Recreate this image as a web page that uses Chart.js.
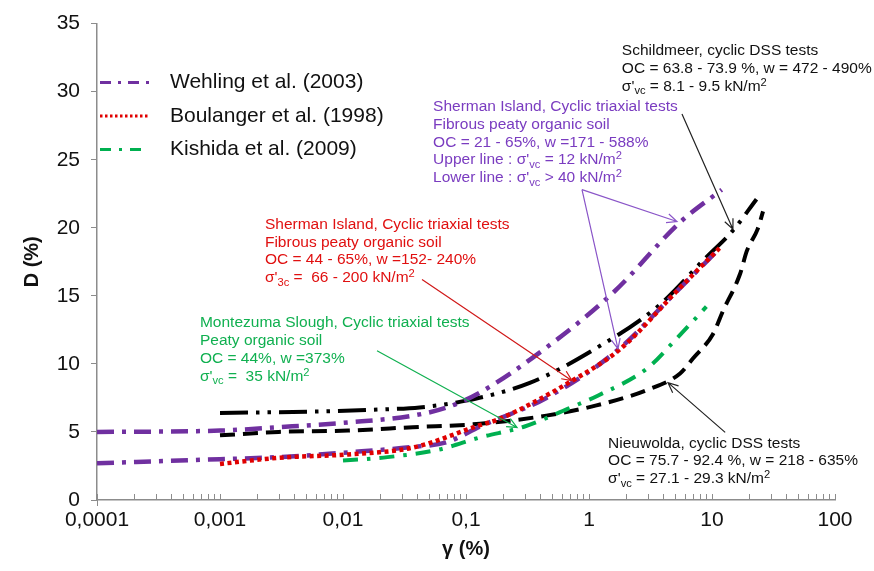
<!DOCTYPE html>
<html>
<head>
<meta charset="utf-8">
<title>D (%) vs γ (%)</title>
<script src="https://cdn.jsdelivr.net/npm/chart.js@4.4.1/dist/chart.umd.min.js"></script>
<style>
  html, body { margin: 0; padding: 0; background: #fff; }
  #wrap { width: 874px; height: 571px; }
</style>
</head>
<body>
<div id="wrap"><canvas id="dampingChart" width="874" height="571"></canvas></div>
<script>
/* ================================================================
   Damping ratio D (%) against shear strain γ (%) – peat soils
   ================================================================ */
(function () {
  'use strict';

  /* ── Axis ticks ──────────────────────────────────────────── */
  var xTickValues = [0.0001, 0.001, 0.01, 0.1, 1, 10, 100];
  var xTickLabels = ['0,0001', '0,001', '0,01', '0,1', '1', '10', '100'];

  /* ── Curves ──────────────────────────────────────────────── */
  // Wehling et al. (2003), Sherman Island – upper line (σ'vc = 12 kN/m²)
  var wehUpperX = [0.0001, 0.001, 0.003, 0.011, 0.037, 0.07, 0.13, 0.45, 1.6, 5.5, 12];
  var wehUpperY = [5.0, 5.1, 5.35, 5.7, 6.2, 6.8, 7.9, 11.2, 15.3, 20.4, 22.8];
  // Wehling et al. (2003), Sherman Island – lower line (σ'vc > 40 kN/m²)
  var wehLowerX = [0.0001, 0.001, 0.003, 0.011, 0.037, 0.07, 0.13, 0.45, 1.7, 5, 11];
  var wehLowerY = [2.7, 3.0, 3.15, 3.5, 3.9, 4.25, 5.4, 7.5, 11.0, 15.2, 18.3];
  // Boulanger et al. (1998)
  var boulX = [0.001, 0.003, 0.011, 0.037, 0.13, 0.18, 0.74, 1.8, 5.5, 11.5];
  var boulY = [2.65, 3.1, 3.35, 3.85, 5.5, 5.9, 8.8, 11.1, 15.6, 18.5];
  // Kishida et al. (2009)
  var kishX = [0.01, 0.023, 0.06, 0.13, 0.3, 0.67, 1.2, 3, 5.2, 9];
  var kishY = [2.9, 3.15, 3.7, 4.6, 5.4, 6.7, 7.7, 9.7, 11.9, 14.2];
  // Schildmeer, cyclic DSS
  var schildX = [0.001, 0.006, 0.02, 0.042, 0.1, 0.33, 1.07, 3.6, 8.9, 14.8, 23];
  var schildY = [6.4, 6.5, 6.65, 6.8, 7.3, 8.6, 11.0, 14.2, 17.8, 19.8, 22.1];
  // Nieuwolda, cyclic DSS
  var nieuwX = [0.001, 0.003, 0.011, 0.037, 0.13, 0.45, 1.15, 3, 5.5, 7, 10.2, 12.3, 16.9, 19.2, 23.5, 26];
  var nieuwY = [4.75, 5.0, 5.1, 5.35, 5.6, 6.2, 6.95, 8.1, 9.3, 10.4, 12.2, 13.9, 16.6, 18.3, 19.9, 21.2];

  /* ── Notes and leader arrows (data coordinates) ──────────── */
  var noteAnchors = [[1.85, 33.0], [0.054, 28.9], [0.00232, 20.24], [0.000687, 13.0], [1.43, 4.16]];
  var noteColors = ['#111111', '#7a3cc0', '#e01010', '#10b050', '#111111'];
  var noteTexts = [
    ['Schildmeer, cyclic DSS tests', 'OC = 63.8 - 73.9 %, w = 472 - 490%', "σ'_{vc} = 8.1 - 9.5 kN/m^{2}"],
    ['Sherman Island, Cyclic triaxial tests', 'Fibrous peaty organic soil', 'OC = 21 - 65%, w =171 - 588%',
      "Upper line : σ'_{vc} = 12 kN/m^{2}", "Lower line : σ'_{vc} > 40 kN/m^{2}"],
    ['Sherman Island, Cyclic triaxial tests', 'Fibrous peaty organic soil', 'OC = 44 - 65%, w =152- 240%',
      "σ'_{3c} =  66 - 200 kN/m^{2}"],
    ['Montezuma Slough, Cyclic triaxial tests', 'Peaty organic soil', 'OC = 44%, w =373%',
      "σ'_{vc} =  35 kN/m^{2}"],
    ['Nieuwolda, cyclic DSS tests', 'OC = 75.7 - 92.4 %, w = 218 - 635%', "σ'_{vc} = 27.1 - 29.3 kN/m^{2}"]
  ];
  var arrowFrom = [[5.7, 28.35], [0.877, 22.8], [0.877, 22.8], [0.0439, 16.2], [0.0189, 10.96], [12.8, 4.97]];
  var arrowTo = [[14.8, 19.9], [5.19, 20.46], [1.72, 11.1], [0.728, 8.77], [0.26, 5.33], [4.39, 8.62]];
  var arrowColors = ['#222222', '#8a55c8', '#8a55c8', '#d01818', '#10b050', '#222222'];

  var FONT = '"Liberation Sans", Arial, sans-serif';
  var PURPLE = '#7030a0', RED = '#e00000', GREEN = '#00b050', BLACK = '#000000';

  function pts(xs, ys) {
    return xs.map(function (x, i) { return { x: x, y: ys[i] }; });
  }

  /* ── Text with sub/superscripts: _{..} and ^{..} ─────────── */
  function drawRich(ctx, text, x, y, size) {
    var parts = text.split(/(_\{[^}]*\}|\^\{[^}]*\})/);
    var cx = x;
    parts.forEach(function (p) {
      if (!p) return;
      var s = size, dy = 0, t = p;
      if (p.indexOf('_{') === 0) { t = p.slice(2, -1); s = size * 0.72; dy = size * 0.3; }
      else if (p.indexOf('^{') === 0) { t = p.slice(2, -1); s = size * 0.72; dy = -size * 0.25; }
      ctx.font = s + 'px ' + FONT;
      ctx.fillText(t, cx, y + dy);
      cx += ctx.measureText(t).width;
    });
  }

  function drawArrow(ctx, x1, y1, x2, y2, color) {
    var a = Math.atan2(y2 - y1, x2 - x1), len = 11, spread = 0.42;
    ctx.strokeStyle = color;
    ctx.lineWidth = 1.2;
    ctx.setLineDash([]);
    ctx.beginPath();
    ctx.moveTo(x1, y1);
    ctx.lineTo(x2, y2);
    ctx.moveTo(x2 - len * Math.cos(a - spread), y2 - len * Math.sin(a - spread));
    ctx.lineTo(x2, y2);
    ctx.lineTo(x2 - len * Math.cos(a + spread), y2 - len * Math.sin(a + spread));
    ctx.stroke();
  }

  /* ── Plugin: minor x ticks, legend, notes, arrows ────────── */
  var decorations = {
    id: 'decorations',
    afterDatasetsDraw: function (chart) {
      var ctx = chart.ctx, xs = chart.scales.x, ys = chart.scales.y, area = chart.chartArea;
      ctx.save();

      // log minor ticks pointing into the plot
      ctx.strokeStyle = '#8c8c8c';
      ctx.lineWidth = 1;
      ctx.beginPath();
      for (var d = 0.0001; d < 100; d *= 10) {
        for (var k = 1; k <= 10; k++) {
          var px = Math.round(xs.getPixelForValue(d * k)) + 0.5;
          ctx.moveTo(px, area.bottom);
          ctx.lineTo(px, area.bottom - 6);
        }
      }
      var ox = Math.round(area.left) + 0.5;
      ctx.moveTo(ox, area.bottom);
      ctx.lineTo(ox, area.bottom + 6);
      ctx.stroke();

      // legend (inside plot, top-left)
      var entries = chart.data.datasets.filter(function (ds) { return ds.legendRank; });
      entries.sort(function (a, b) { return a.legendRank - b.legendRank; });
      entries.forEach(function (ds, row) {
        var ly = area.top + 59 + row * 33.5;
        ctx.strokeStyle = ds.borderColor;
        ctx.lineWidth = 3;
        ctx.setLineDash(ds.legendDash);
        ctx.beginPath();
        ctx.moveTo(area.left + 3, ly);
        ctx.lineTo(area.left + 52, ly);
        ctx.stroke();
        ctx.setLineDash([]);
        ctx.fillStyle = '#111';
        ctx.font = '21px ' + FONT;
        ctx.textBaseline = 'middle';
        ctx.fillText(ds.label, area.left + 73, ly);
      });

      // notes
      ctx.textBaseline = 'middle';
      noteTexts.forEach(function (lines, i) {
        var nx = xs.getPixelForValue(noteAnchors[i][0]);
        var ny = ys.getPixelForValue(noteAnchors[i][1]);
        ctx.fillStyle = noteColors[i];
        lines.forEach(function (line, j) {
          drawRich(ctx, line, nx, ny + j * 17.8, 15.5);
        });
      });

      // leader arrows
      arrowFrom.forEach(function (f, i) {
        drawArrow(ctx,
          xs.getPixelForValue(f[0]), ys.getPixelForValue(f[1]),
          xs.getPixelForValue(arrowTo[i][0]), ys.getPixelForValue(arrowTo[i][1]),
          arrowColors[i]);
      });

      ctx.restore();
    }
  };

  function line(label, data, color, width, dash, extra) {
    var ds = {
      label: label,
      data: data,
      borderColor: color,
      backgroundColor: color,
      borderWidth: width,
      borderDash: dash,
      borderCapStyle: 'butt',
      pointRadius: 0,
      fill: false,
      cubicInterpolationMode: 'monotone'
    };
    for (var k in extra) ds[k] = extra[k];
    return ds;
  }

  var datasets = [
    line('Boulanger et al. (1998)', pts(boulX, boulY), RED, 4.5, [4, 3.5], { legendRank: 2, legendDash: [2.5, 2.5], order: 0 }),
    line('Wehling et al. (2003)', pts(wehUpperX, wehUpperY), PURPLE, 4.5, [17, 8, 4, 8], { legendRank: 1, legendDash: [11, 7, 3, 7], order: 1 }),
    line('Wehling et al. (2003)', pts(wehLowerX, wehLowerY), PURPLE, 4.5, [17, 8, 4, 8], { order: 2 }),
    line('Kishida et al. (2009)', pts(kishX, kishY), GREEN, 4, [15, 9, 3.5, 9], { legendRank: 3, legendDash: [11, 8, 3, 8], order: 3 }),
    line('Schildmeer', pts(schildX, schildY), BLACK, 4, [28, 8, 3.5, 8, 3.5, 8], { order: 4 }),
    line('Nieuwolda', pts(nieuwX, nieuwY), BLACK, 4, [15, 8], { order: 5 })
  ];

  var chart = new Chart(document.getElementById('dampingChart'), {
    type: 'line',
    data: { datasets: datasets },
    plugins: [decorations],
    options: {
      responsive: false,
      animation: false,
      devicePixelRatio: 1,
      layout: { padding: { top: 21, right: 39, left: 0, bottom: 0 } },
      plugins: { legend: { display: false }, tooltip: { enabled: false } },
      scales: {
        x: {
          type: 'logarithmic',
          min: 0.0001,
          max: 100,
          afterBuildTicks: function (scale) {
            scale.ticks = xTickValues.map(function (v) { return { value: v, major: true }; });
          },
          afterFit: function (scale) { scale.height = 71; },
          ticks: {
            autoSkip: false,
            maxRotation: 0,
            padding: 8,
            color: '#111',
            font: { family: FONT, size: 21 },
            callback: function (v, i) { return xTickLabels[i]; }
          },
          grid: { display: true, drawOnChartArea: false, drawTicks: false },
          border: { color: '#8c8c8c', width: 1.5 },
          title: {
            display: true,
            text: 'γ (%)',
            color: '#111',
            font: { family: FONT, size: 20, weight: 'bold' },
            padding: { top: 0, bottom: 10 }
          }
        },
        y: {
          min: 0,
          max: 35,
          afterFit: function (scale) { scale.width = 97; },
          ticks: {
            stepSize: 5,
            padding: 11,
            color: '#111',
            font: { family: FONT, size: 21 }
          },
          grid: { display: true, drawOnChartArea: false, drawTicks: true, tickLength: 6, tickColor: '#8c8c8c' },
          border: { color: '#8c8c8c', width: 1.5 },
          title: {
            display: true,
            text: 'D (%)',
            color: '#111',
            font: { family: FONT, size: 20, weight: 'bold' },
            padding: { top: 20, bottom: 0 }
          }
        }
      }
    }
  });
})();
</script>
</body>
</html>
